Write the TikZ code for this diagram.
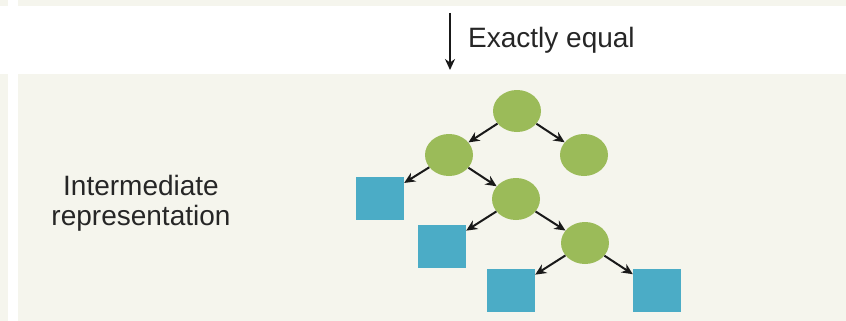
\documentclass[tikz,border=0pt]{standalone}
\usepackage{fontspec}
\setmainfont{Liberation Sans}
\usetikzlibrary{shapes.geometric,arrows.meta}
\definecolor{panel}{RGB}{245,245,237}
\definecolor{leafblue}{RGB}{75,172,198}
\definecolor{opgreen}{RGB}{155,187,89}
\begin{document}
\begin{tikzpicture}[x=1pt,y=-1pt,
	op/.style={ellipse,fill=opgreen,minimum width=48pt,minimum height=42pt,inner sep=0pt},
	leaf/.style={rectangle,fill=leafblue,minimum width=48pt,minimum height=43pt,inner sep=0pt},
	link/.style={-{Stealth[length=11pt,width=10pt]},line width=2pt,black!90},
	note/.style={font=\fontsize{28}{30}\selectfont,text=black!85,inner sep=0pt}]
	\useasboundingbox (0,0) rectangle (846,321);
	% background strips
	\fill [panel] (0,0) rectangle (8,6);
	\fill [panel] (18,0) rectangle (846,6);
	\fill [panel] (0,74) rectangle (8,321);
	\fill [panel] (18,74) rectangle (846,321);
	% arrow between the panels
	\coordinate (eqtop) at (450,13);
	\coordinate (eqbot) at (450,70);
	\draw [link] (eqtop) -- (eqbot);
	\node [note,anchor=base west] (eqtext) at (468,48) {Exactly equal};
	\node [note,align=center] (irtext) at (141,203) {Intermediate\\representation};
	% the tree
	\node [op] (root) at (517,111) {};
	\node [op] (lft)  at (449,155) {};
	\node [op] (rgt)  at (584,155) {};
	\node [op] (mid)  at (516,199) {};
	\node [op] (low)  at (585,243) {};
	\node [leaf] (sq1) at (380,198) {};
	\node [leaf] (sq2) at (442,246) {};
	\node [leaf] (sq3) at (511,290) {};
	\node [leaf] (sq4) at (657,290) {};
	\foreach \a/\b in {root/lft,root/rgt,lft/sq1,lft/mid,mid/sq2,mid/low,low/sq3,low/sq4}
		\draw [link] (\a) -- (\b);
\end{tikzpicture}
\end{document}
